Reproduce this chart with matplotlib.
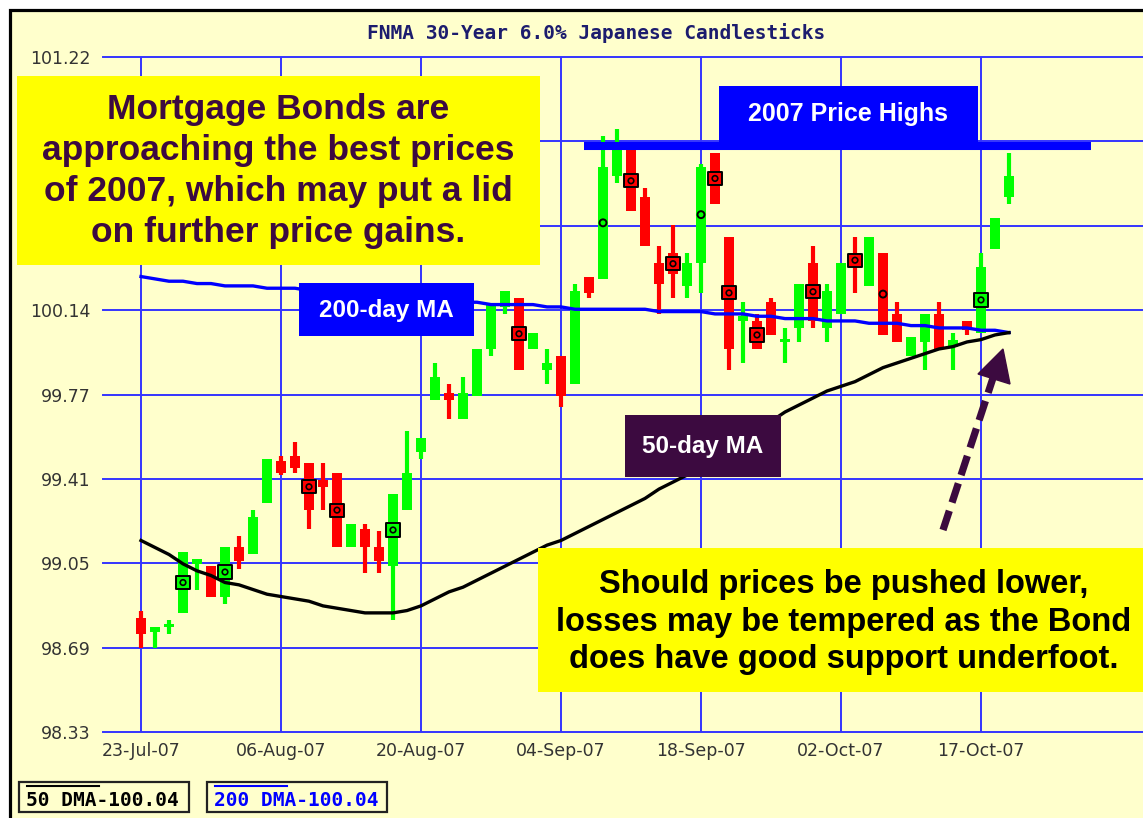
import matplotlib
matplotlib.use("Agg")
import matplotlib.pyplot as plt
from matplotlib.patches import Rectangle, Polygon
from matplotlib.lines import Line2D
import numpy as np

# ---------------- data ----------------
opens = [98.82, 98.76, 98.78, 98.84, 99.05, 99.04, 98.91, 99.12, 99.09, 99.31,
         99.49, 99.51, 99.48, 99.41, 99.44, 99.12, 99.20, 99.12, 99.04, 99.28,
         99.53, 99.75, 99.78, 99.67, 99.77, 99.97, 100.15, 100.19, 99.97, 99.88,
         99.94, 99.82, 100.28, 100.27, 100.71, 100.82, 100.62, 100.34, 100.38, 100.24,
         100.34, 100.81, 100.45, 100.09, 100.09, 100.17, 100.00, 100.06, 100.34, 100.06,
         100.12, 100.38, 100.24, 100.38, 100.12, 99.94, 100.00, 100.12, 99.98, 100.09,
         100.04, 100.40, 100.62]
highs = [98.85, 98.78, 98.81, 99.10, 99.07, 99.04, 99.12, 99.17, 99.28, 99.50,
         99.51, 99.57, 99.48, 99.48, 99.44, 99.22, 99.22, 99.19, 99.35, 99.62,
         99.59, 99.91, 99.82, 99.85, 99.97, 100.16, 100.22, 100.19, 100.04, 99.97,
         99.94, 100.25, 100.28, 100.88, 100.91, 100.83, 100.66, 100.41, 100.50, 100.38,
         100.76, 100.81, 100.45, 100.17, 100.12, 100.19, 100.06, 100.25, 100.41, 100.25,
         100.34, 100.45, 100.45, 100.38, 100.17, 100.02, 100.12, 100.17, 100.04, 100.09,
         100.38, 100.53, 100.81]
lows = [98.69, 98.69, 98.75, 98.84, 98.94, 98.91, 98.88, 99.03, 99.09, 99.31,
        99.43, 99.44, 99.20, 99.28, 99.12, 99.12, 99.01, 99.01, 98.81, 99.28,
        99.50, 99.75, 99.67, 99.67, 99.77, 99.94, 100.12, 99.88, 99.97, 99.82,
        99.72, 99.82, 100.19, 100.27, 100.68, 100.56, 100.41, 100.12, 100.19, 100.19,
        100.21, 100.59, 99.88, 99.91, 99.97, 100.03, 99.91, 100.00, 100.06, 100.00,
        100.12, 100.21, 100.24, 100.03, 100.00, 99.94, 99.88, 99.97, 99.88, 100.03,
        100.04, 100.40, 100.59]
closes = [98.75, 98.78, 98.79, 99.10, 99.07, 98.91, 99.12, 99.06, 99.25, 99.50,
          99.44, 99.46, 99.28, 99.38, 99.12, 99.22, 99.12, 99.06, 99.35, 99.44,
          99.59, 99.85, 99.75, 99.78, 99.97, 100.16, 100.22, 99.88, 100.04, 99.91,
          99.77, 100.22, 100.21, 100.75, 100.83, 100.56, 100.41, 100.25, 100.29, 100.34,
          100.75, 100.59, 99.97, 100.11, 99.97, 100.03, 100.01, 100.25, 100.09, 100.22,
          100.34, 100.32, 100.45, 100.03, 100.00, 100.02, 100.12, 99.97, 100.01, 100.05,
          100.32, 100.53, 100.71]
ma50 = [99.15, 99.12, 99.09, 99.05, 99.02, 99.00, 98.97, 98.96, 98.94, 98.92,
        98.91, 98.90, 98.89, 98.87, 98.86, 98.85, 98.84, 98.84, 98.84, 98.85,
        98.87, 98.90, 98.93, 98.95, 98.98, 99.01, 99.04, 99.07, 99.10, 99.13,
        99.15, 99.18, 99.21, 99.24, 99.27, 99.30, 99.33, 99.37, 99.40, 99.43,
        99.46, 99.50, 99.54, 99.58, 99.62, 99.66, 99.70, 99.73, 99.76, 99.79,
        99.81, 99.83, 99.86, 99.89, 99.91, 99.93, 99.95, 99.97, 99.98, 100.00,
        100.01, 100.03, 100.04]
ma200 = [100.28, 100.27, 100.26, 100.26, 100.25, 100.25, 100.24, 100.24, 100.24, 100.23,
         100.23, 100.23, 100.22, 100.22, 100.21, 100.21, 100.21, 100.20, 100.20, 100.19,
         100.19, 100.18, 100.18, 100.17, 100.17, 100.16, 100.16, 100.16, 100.16, 100.15,
         100.15, 100.14, 100.14, 100.14, 100.14, 100.14, 100.14, 100.13, 100.13, 100.13,
         100.13, 100.12, 100.12, 100.12, 100.11, 100.11, 100.10, 100.10, 100.10, 100.09,
         100.09, 100.09, 100.08, 100.08, 100.08, 100.07, 100.07, 100.06, 100.06, 100.06,
         100.05, 100.05, 100.04]
square_marks = [3, 6, 12, 14, 18, 27, 35, 38, 41, 42, 44, 48, 51, 60]
circle_marks = [33, 40, 53]
high_2007 = 100.84

x_tick_pos = [0, 10, 20, 30, 40, 50, 60]
x_tick_labels = ["23-Jul-07", "06-Aug-07", "20-Aug-07", "04-Sep-07",
                 "18-Sep-07", "02-Oct-07", "17-Oct-07"]
y_ticks = [98.33, 98.69125, 99.0525, 99.41375, 99.775, 100.13625,
           100.4975, 100.85875, 101.22]
# the 100.50 and 100.86 labels are covered by the yellow note in the reference
y_tick_labels = ["98.33", "98.69", "99.05", "99.41", "99.77", "100.14",
                 "", "", "101.22"]

title = "FNMA 30-Year 6.0% Japanese Candlesticks"
note_top = "Mortgage Bonds are\napproaching the best prices\nof 2007, which may put a lid\non further price gains."
note_bottom = "Should prices be pushed lower,\nlosses may be tempered as the Bond\ndoes have good support underfoot."
legend50 = "50 DMA-100.04"
legend200 = "200 DMA-100.04"

# ---------------- styling ----------------
W, H = 1143, 818
BG = "#FFFFCC"
GRID = "#3434ff"
GREEN = "#00ff00"
RED = "#ff0000"
PURPLE = "#3c0a40"
SANS = ["Liberation Sans", "DejaVu Sans"]


def fx(x):
    return x / W


def fy(y):
    return 1 - y / H


fig = plt.figure(figsize=(W / 100, H / 100), dpi=100)
fig.patch.set_facecolor("white")
fig.add_artist(Rectangle((fx(9.5), -0.1), 1.2, fy(10.5) + 0.1, transform=fig.transFigure,
                         facecolor=BG, edgecolor="black", lw=2.3, zorder=-10))

ax = fig.add_axes([fx(103), fy(732), 1 - fx(103), (732 - 57) / H])
ax.set_facecolor("none")
idx = np.arange(len(opens))
ax.set_xlim(-38 / 14, (W - 141) / 14)
ax.set_ylim(98.33, 101.22)
for s in ax.spines.values():
    s.set_visible(False)

for yv in y_ticks:
    ax.axhline(yv, color=GRID, lw=1.4, zorder=1, clip_on=False)
for xv in x_tick_pos:
    ax.axvline(xv, color=GRID, lw=1.4, zorder=1)

ax.set_yticks(y_ticks, y_tick_labels)
ax.set_xticks(x_tick_pos, x_tick_labels)
ax.tick_params(axis="y", length=0, pad=9, labelsize=12.5, labelcolor="#333333")
ax.tick_params(axis="x", length=0, pad=7, labelsize=12.5, labelcolor="#333333")

o = np.array(opens)
c = np.array(closes)
colors = [GREEN if cc >= oo else RED for oo, cc in zip(o, c)]
ax.vlines(idx, lows, highs, colors=colors, lw=3.0, zorder=3)
bottoms = np.minimum(o, c)
heights = np.maximum(np.abs(c - o), 0.012)
ax.bar(idx, heights, bottom=bottoms, width=0.78, color=colors, zorder=3)

ax.plot(idx, ma200, color="#0000ff", lw=2.4, zorder=4)
ax.plot(idx, ma50, color="black", lw=2.4, zorder=4)

mids = (o + c) / 2
sq = np.array(square_marks)
ax.scatter(sq, mids[sq], marker="s", s=9.5 ** 2, c=[colors[i] for i in sq],
           edgecolors="black", linewidths=1.4, zorder=6)
ax.scatter(sq, mids[sq], marker="o", s=4.0 ** 2, facecolors="none",
           edgecolors="black", linewidths=1.2, zorder=7)
ci = np.array(circle_marks)
ax.scatter(ci, mids[ci], marker="o", s=5.0 ** 2, c=[colors[i] for i in ci],
           edgecolors="black", linewidths=1.4, zorder=7)

# ---------------- annotations ----------------
def box(x0, y0, x1, y1, color, z=5):
    fig.add_artist(Rectangle((fx(x0), fy(y1)), fx(x1) - fx(x0), fy(y0) - fy(y1),
                             transform=fig.transFigure, facecolor=color,
                             edgecolor="none", zorder=z))


# 2007 highs line (data level) and its label box
ax.hlines(high_2007, (584 - 141) / 14, (1091 - 141) / 14, color="#0000ff", lw=5.8, zorder=8)
box(719, 86, 978, 143, "#0000ff")
fig.text(fx(848), fy(114), "2007 Price Highs", ha="center", va="center", color="white",
         fontsize=18, fontweight="bold", family=SANS, zorder=6)

box(299, 283, 474, 336, "#0000ff")
fig.text(fx(386), fy(310), "200-day MA", ha="center", va="center", color="white",
         fontsize=17.5, fontweight="bold", family=SANS, zorder=6)

box(625, 415, 781, 477, PURPLE)
fig.text(fx(703), fy(446), "50-day MA", ha="center", va="center", color="white",
         fontsize=17.5, fontweight="bold", family=SANS, zorder=6)

box(17, 76, 540, 265, "#ffff00")
fig.text(fx(278), fy(171), note_top, ha="center", va="center", color=PURPLE,
         fontsize=25.5, fontweight="bold", family=SANS, linespacing=1.3, zorder=6)

box(538, 548, 1160, 692, "#ffff00")
fig.text(fx(844), fy(622), note_bottom, ha="center", va="center", color="black",
         fontsize=23.5, fontweight="bold", family=SANS, linespacing=1.27, zorder=6)

# dashed arrow
fig.add_artist(Line2D([fx(943), fx(993)], [fy(530), fy(378)], transform=fig.transFigure,
                      color=PURPLE, lw=5.2, linestyle=(0, (2.8, 1.2)),
                      solid_capstyle="butt", dash_capstyle="butt", zorder=6))
fig.add_artist(Polygon([(fx(1003), fy(349)), (fx(978), fy(374)), (fx(1010), fy(384))],
                       closed=True, transform=fig.transFigure, facecolor=PURPLE,
                       edgecolor=PURPLE, zorder=6))

# title
fig.text(fx(596), fy(33), title, ha="center", va="center", color="#1c1c6e",
         fontsize=14, fontweight="bold", family="DejaVu Sans Mono")

# legend boxes
for (x0, x1, txt, col) in [(19, 189, legend50, "black"), (207, 387, legend200, "#0000ff")]:
    fig.add_artist(Rectangle((fx(x0), fy(812)), fx(x1) - fx(x0), fy(782) - fy(812),
                             transform=fig.transFigure, facecolor="none",
                             edgecolor="#222222", lw=1.6, zorder=5))
    fig.add_artist(Line2D([fx(x0 + 8), fx(x0 + 80)], [fy(786), fy(786)],
                          transform=fig.transFigure, color=col, lw=1.5, zorder=5))
    fig.text(fx(x0 + 7), fy(800), txt, ha="left", va="center", color=col,
             fontsize=14, fontweight="bold", family="DejaVu Sans Mono", zorder=6)

fig.savefig("out.png", dpi=100, facecolor=fig.get_facecolor())
